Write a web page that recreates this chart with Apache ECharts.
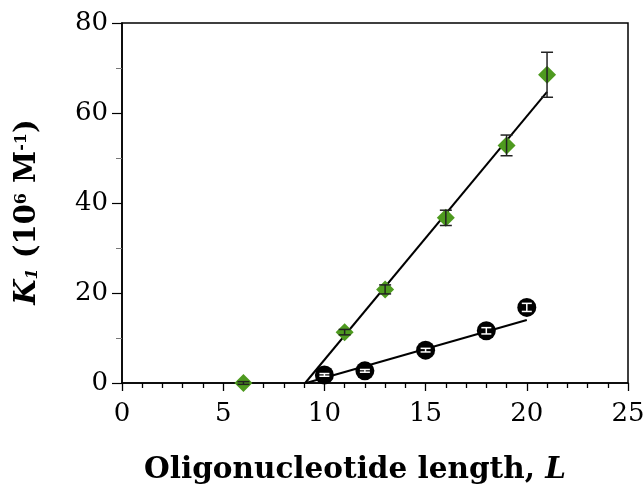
<!DOCTYPE html>
<html lang="en">
<head>
    <meta charset="UTF-8">
    <title>K1 vs oligonucleotide length</title>
    <style>
        html, body { margin: 0; padding: 0; background: #fff; }
    </style>
</head>
<body>
    <div id="main" style="width: 644px; height: 488px;"></div>

    <script src="https://cdn.jsdelivr.net/npm/echarts@6/dist/echarts.min.js"></script>
    <script>
        // green diamonds
        var lenGreen = [6, 11, 13, 16, 19, 21];
        var kGreen = [0, 11.3, 20.8, 36.7, 52.8, 68.5];
        var errGreen = [0.3, 0.6, 1.0, 1.7, 2.3, 5.0];
        // black circles
        var lenBlack = [10, 12, 15, 18, 20];
        var kBlack = [1.8, 2.7, 7.3, 11.6, 16.8];
        var errBlack = [0.3, 0.3, 0.4, 0.7, 0.9];
        // fitted lines (end points)
        var fitGreen = [[9.05, 0], [21, 64.7]];
        var fitBlack = [[9.1, 0], [20, 14]];

        var font = 'DejaVu Serif';

        function pts(xs, ys) {
            return xs.map(function (x, i) { return [x, ys[i]]; });
        }
        function errPts(xs, ys, es) {
            return xs.map(function (x, i) { return [x, ys[i], es[i]]; });
        }

        function errBar(color, cap) {
            return function (params, api) {
                var x = api.value(0), y = api.value(1), e = api.value(2);
                var lo = api.coord([x, y - e]);
                var hi = api.coord([x, y + e]);
                var st = { stroke: color, lineWidth: 1.5 };
                return {
                    type: 'group',
                    children: [
                        { type: 'line', shape: { x1: lo[0], y1: lo[1], x2: hi[0], y2: hi[1] }, style: st },
                        { type: 'line', shape: { x1: lo[0] - cap, y1: lo[1], x2: lo[0] + cap, y2: lo[1] }, style: st },
                        { type: 'line', shape: { x1: hi[0] - cap, y1: hi[1], x2: hi[0] + cap, y2: hi[1] }, style: st }
                    ]
                };
            };
        }

        var myChart = echarts.init(document.getElementById('main'));
        var option = {
            animation: false,
            backgroundColor: '#fff',
            grid: {
                left: 122, right: 16, top: 23, bottom: 105,
                containLabel: false, outerBoundsMode: 'none',
                show: true, borderColor: '#000', borderWidth: 1.5
            },
            xAxis: {
                type: 'value',
                min: 0, max: 25, interval: 5,
                name: 'Oligonucleotide length, {i|L}',
                nameLocation: 'middle',
                nameGap: 72,
                nameTextStyle: {
                    fontFamily: font, fontWeight: 'bold', fontSize: 29.5, color: '#000',
                    padding: [0, 40, 0, 0],
                    rich: { i: { fontFamily: font, fontWeight: 'bold', fontStyle: 'italic', fontSize: 29.5, color: '#000' } }
                },
                axisLine: { show: true, lineStyle: { color: '#000', width: 1.5 } },
                axisTick: { show: true, length: 8, lineStyle: { color: '#000', width: 1.3 } },
                minorTick: { show: true, splitNumber: 5, length: 5, lineStyle: { color: '#000', width: 1.3 } },
                axisLabel: { margin: 18, fontFamily: font, fontSize: 26, color: '#000' },
                splitLine: { show: false }
            },
            yAxis: {
                type: 'value',
                min: 0, max: 80, interval: 20,
                name: '{k|K}{s|1} (10{p|6} M{p|-1})',
                nameLocation: 'middle',
                nameRotate: 90,
                nameGap: 80,
                nameTextStyle: {
                    fontFamily: font, fontWeight: 'bold', fontSize: 29, color: '#000',
                    padding: [0, 18, 0, 0],
                    rich: {
                        k: { fontFamily: font, fontWeight: 'bold', fontStyle: 'italic', fontSize: 29, color: '#000' },
                        s: { fontFamily: font, fontWeight: 'bold', fontStyle: 'italic', fontSize: 16, color: '#000', padding: [10, 0, 0, 0] },
                        p: { fontFamily: font, fontWeight: 'bold', fontSize: 16, color: '#000', padding: [0, 0, 12, 0] }
                    }
                },
                axisLine: { show: true, lineStyle: { color: '#000', width: 1.5 } },
                axisTick: { show: true, length: 10, lineStyle: { color: '#000', width: 1.2 } },
                minorTick: { show: true, splitNumber: 2, length: 6, lineStyle: { color: '#777', width: 1 } },
                axisLabel: { margin: 14, fontFamily: font, fontSize: 26, color: '#000' },
                splitLine: { show: false }
            },
            series: [
                {
                    type: 'line', data: fitGreen, showSymbol: false, symbol: 'none',
                    lineStyle: { color: '#000', width: 2 }, z: 1
                },
                {
                    type: 'line', data: fitBlack, showSymbol: false, symbol: 'none',
                    lineStyle: { color: '#000', width: 2 }, z: 1
                },
                {
                    type: 'scatter', data: pts(lenGreen, kGreen),
                    symbol: 'diamond', symbolSize: [18, 18],
                    itemStyle: { color: '#4e9a1f', opacity: 1 }, z: 2
                },
                {
                    type: 'scatter', data: pts(lenBlack, kBlack),
                    symbol: 'circle', symbolSize: 19,
                    itemStyle: { color: '#000', opacity: 1 }, z: 2
                },
                {
                    type: 'custom', data: errPts(lenGreen, kGreen, errGreen),
                    renderItem: errBar('#222', 6), z: 3
                },
                {
                    type: 'custom', data: errPts(lenBlack, kBlack, errBlack),
                    renderItem: errBar('#fff', 5), z: 3
                }
            ]
        };
        myChart.setOption(option);
    </script>
</body>
</html>
